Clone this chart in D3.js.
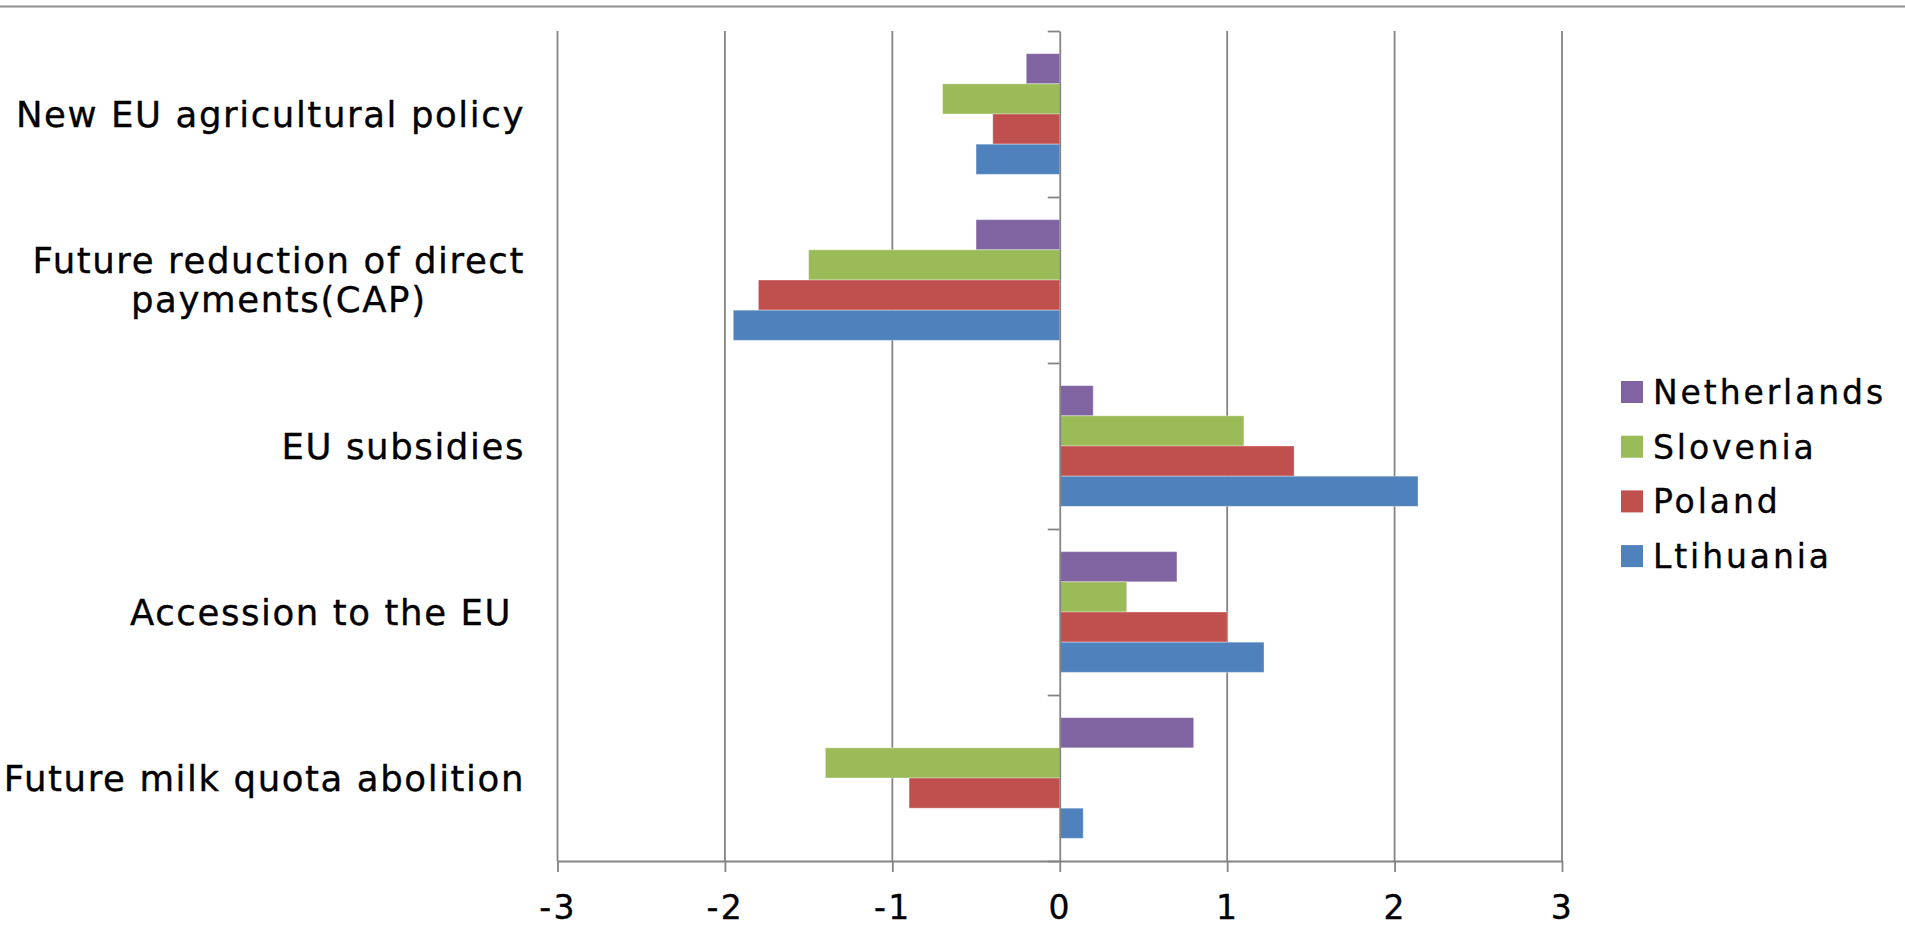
<!DOCTYPE html>
<html>
<head>
<meta charset="utf-8">
<script src="https://cdn.jsdelivr.net/npm/d3@7"></script>
<style>
  html, body { margin: 0; padding: 0; background: #fff; }
  svg { display: block; }
  text { font-family: "DejaVu Sans", Verdana, sans-serif; fill: #000; stroke: #000; stroke-width: 0.35px; }
</style>
</head>
<body>
<svg id="chart" width="1905" height="934"></svg>
<script>
// Categories, top to bottom
const categories = [
  "New EU agricultural policy",
  "Future reduction of direct\npayments(CAP)",
  "EU subsidies",
  "Accession to the EU ",
  "Future milk quota abolition"
];

// Series, in the order the bars stack inside each group (top to bottom)
const seriesNames = ["Netherlands", "Slovenia", "Poland", "Ltihuania"];
const seriesColors = ["#8064A2", "#9BBB59", "#C0504D", "#4F81BD"];

const netherlands = [-0.2, -0.5, 0.2, 0.7, 0.8];
const slovenia    = [-0.7, -1.5, 1.1, 0.4, -1.4];
const poland      = [-0.4, -1.8, 1.4, 1.0, -0.9];
const lithuania   = [-0.5, -1.95, 2.14, 1.22, 0.14];

const xTicks = [-3, -2, -1, 0, 1, 2, 3];

const seriesValues = [netherlands, slovenia, poland, lithuania];

const svg = d3.select("#chart");
const W = 1905;

const plot = { left: 557.5, right: 1562, top: 31, bottom: 861 };

const x = d3.scaleLinear().domain([-3, 3]).range([plot.left, plot.right]);
const y = d3.scaleBand().domain(categories).range([plot.top, plot.bottom]).padding(0);
const yInner = d3.scaleBand().domain(seriesNames).range([0, y.bandwidth()])
  .paddingInner(0).paddingOuter(0.75);

const gridColor = "#848484";

// Thin rule along the top of the page
svg.append("line")
  .attr("x1", 0).attr("x2", W).attr("y1", 6.5).attr("y2", 6.5)
  .attr("stroke", "#8f8f8f").attr("stroke-width", 2.2);

// Vertical gridlines
svg.append("g")
  .selectAll("line")
  .data(xTicks.filter(d => d !== 0))
  .join("line")
  .attr("x1", d => x(d)).attr("x2", d => x(d))
  .attr("y1", plot.top).attr("y2", plot.bottom)
  .attr("stroke", gridColor).attr("stroke-width", 1.8);

// Bars
const barData = [];
categories.forEach((c, i) => {
  seriesNames.forEach((s, j) => {
    barData.push({ cat: c, series: s, value: seriesValues[j][i], color: seriesColors[j] });
  });
});

svg.append("g")
  .selectAll("rect")
  .data(barData)
  .join("rect")
  .attr("x", d => Math.min(x(0), x(d.value)))
  .attr("width", d => Math.abs(x(d.value) - x(0)))
  .attr("y", d => y(d.cat) + yInner(d.series))
  .attr("height", yInner.bandwidth())
  .attr("fill", d => d.color)
  .attr("stroke", "#ffffff").attr("stroke-opacity", 0.35).attr("stroke-width", 1);

// Horizontal value axis at the bottom
const xAxis = d3.axisBottom(x).tickValues(xTicks).tickSize(11).tickSizeOuter(0).tickFormat(d3.format("d"));
const gx = svg.append("g").attr("transform", `translate(0,${plot.bottom})`).call(xAxis);
gx.select(".domain").attr("stroke", gridColor).attr("stroke-width", 1.8);
gx.selectAll(".tick line").attr("stroke", gridColor).attr("stroke-width", 1.8);
gx.selectAll(".tick text")
  .attr("y", 58).attr("dy", 0)
  .attr("font-size", 33).attr("letter-spacing", "2.4px")
  .attr("font-family", "DejaVu Sans")
  .attr("fill", "#000")
  .text(d => (d < 0 ? "-" + Math.abs(d) : String(d)));

// Vertical category axis through zero, ticks at category boundaries
const boundary = d3.scaleLinear().domain([0, categories.length]).range([plot.top, plot.bottom]);
const yAxis = d3.axisLeft(boundary).tickValues(d3.range(categories.length + 1)).tickSize(12).tickSizeOuter(0).tickFormat("");
const gy = svg.append("g").attr("transform", `translate(${x(0)},0)`).call(yAxis);
gy.select(".domain").attr("stroke", gridColor).attr("stroke-width", 1.8);
gy.selectAll(".tick line").attr("stroke", gridColor).attr("stroke-width", 1.8);

// Category labels, right-aligned block, lines centred within it
const labelRight = 525;
const labelSize = 35.5;
const lineGap = 39;
const labelG = svg.append("g");
categories.forEach(c => {
  const lines = c.split("\n");
  const cy = y(c) + y.bandwidth() / 2;
  const texts = lines.map((ln, k) =>
    labelG.append("text")
      .attr("font-size", labelSize)
      .attr("letter-spacing", "1.6px")
      .attr("xml:space", "preserve")
      .style("white-space", "pre")
      .attr("y", cy + (k - (lines.length - 1) / 2) * lineGap + labelSize * 0.36)
      .text(ln)
  );
  const widths = texts.map(t => t.node().getComputedTextLength());
  const maxW = d3.max(widths);
  const mid = labelRight - maxW / 2;
  texts.forEach((t, k) => t.attr("x", mid - widths[k] / 2));
});

// Legend
const legend = svg.append("g").attr("transform", "translate(1621,381)");
const legendRows = legend.selectAll("g")
  .data(seriesNames)
  .join("g")
  .attr("transform", (d, i) => `translate(0,${i * 54.7})`);
legendRows.append("rect")
  .attr("width", 22).attr("height", 22)
  .attr("fill", (d, i) => seriesColors[i]);
legendRows.append("text")
  .attr("x", 32).attr("y", 11 + 33 * 0.36)
  .attr("font-size", 33).attr("letter-spacing", "2.9px")
  .text(d => d);
</script>
</body>
</html>
